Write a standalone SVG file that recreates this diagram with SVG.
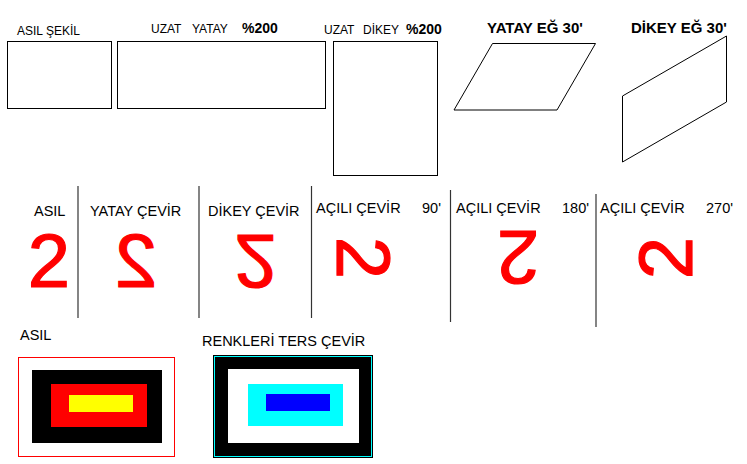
<svg xmlns="http://www.w3.org/2000/svg" width="747" height="464" viewBox="0 0 747 464">
<style>
text{font-family:"Liberation Sans",Arial,sans-serif;fill:#000}
.s{font-size:12px}
.b{font-size:14px;font-weight:bold}
.t{font-size:15px;font-weight:bold}
.m{font-size:14.5px}
.big{font-size:76px;fill:#ff0000;stroke:#ff0000;stroke-width:1.2;text-anchor:middle}
.box{fill:none;stroke:#000;stroke-width:1}
.sep{stroke:#333;stroke-width:1.2}
</style>
<rect width="747" height="464" fill="#fff"/>
<g id="asil-sekil">
<text class="s" x="17" y="35">ASIL ŞEKİL</text>
<rect class="box" x="7.5" y="41.5" width="104" height="67"/>
</g>
<g id="uzat-yatay">
<text class="s" x="151" y="33">UZAT</text>
<text class="s" x="192" y="33">YATAY</text>
<text class="b" x="242" y="33">%200</text>
<rect class="box" x="117.5" y="41.5" width="208" height="67"/>
</g>
<g id="uzat-dikey">
<text class="s" x="324" y="34">UZAT</text>
<text class="s" x="363" y="34">DİKEY</text>
<text class="b" x="406" y="34">%200</text>
<rect class="box" x="333.5" y="41.5" width="104" height="134"/>
</g>
<g id="yatay-eg">
<text class="t" x="487" y="33">YATAY EĞ 30'</text>
<polygon class="box" points="454,110 492.5,43.5 595.5,43.5 557,110"/>
</g>
<g id="dikey-eg">
<text class="t" x="631" y="33">DİKEY EĞ 30'</text>
<polygon class="box" points="622.5,96 726.5,36 726.5,102 622.5,162"/>
</g>
<g id="separators">
<line class="sep" x1="78" y1="186" x2="78" y2="318"/>
<line class="sep" x1="199" y1="186" x2="199" y2="318"/>
<line class="sep" x1="311.5" y1="186" x2="311.5" y2="318"/>
<line class="sep" x1="450.5" y1="190" x2="450.5" y2="322"/>
<line class="sep" x1="596" y1="194" x2="596" y2="327"/>
</g>
<g id="asil">
<text class="m" x="34" y="216">ASIL</text>
<text class="big" transform="translate(49,259.5) translate(0,27.5)">2</text>
</g>
<g id="yatay-cevir">
<text class="m" x="90" y="216">YATAY ÇEVİR</text>
<text class="big" transform="translate(136,259.5) scale(-1,1) translate(0,27.5)">2</text>
</g>
<g id="dikey-cevir">
<text class="m" x="208" y="216">DİKEY ÇEVİR</text>
<text class="big" transform="translate(255.5,262) scale(1,-1) translate(0,27.5)">2</text>
</g>
<g id="acili-90">
<text class="m" x="316" y="213">AÇILI ÇEVİR</text>
<text class="m" x="422" y="213">90'</text>
<text class="big" transform="translate(364.5,258) rotate(90) translate(0,27.5)">2</text>
</g>
<g id="acili-180">
<text class="m" x="456" y="213">AÇILI ÇEVİR</text>
<text class="m" x="562" y="213">180'</text>
<text class="big" transform="translate(518,258.5) rotate(180) translate(0,27.5)">2</text>
</g>
<g id="acili-270">
<text class="m" x="600" y="213">AÇILI ÇEVİR</text>
<text class="m" x="706" y="213">270'</text>
<text class="big" transform="translate(664.5,258) rotate(-90) translate(0,27.5)">2</text>
</g>
<g id="renk-asil">
<text class="m" x="20" y="340">ASIL</text>
<rect x="18.5" y="357.5" width="156" height="99" fill="#fff" stroke="#ff0000"/>
<rect x="32" y="370" width="130" height="73" fill="#000"/>
<rect x="51" y="384" width="96" height="43" fill="#ff0000"/>
<rect x="69" y="395" width="64" height="17" fill="#ffff00"/>
</g>
<g id="renk-ters">
<text class="m" x="202" y="346">RENKLERİ TERS ÇEVİR</text>
<rect x="213" y="355" width="160" height="103" fill="#000"/>
<rect x="214.5" y="356.5" width="157" height="100" fill="none" stroke="#00ffff"/>
<rect x="228" y="369" width="131" height="74" fill="#fff"/>
<rect x="248" y="384" width="95" height="42" fill="#00ffff"/>
<rect x="266" y="394" width="64" height="17" fill="#0000ff"/>
</g>
</svg>
